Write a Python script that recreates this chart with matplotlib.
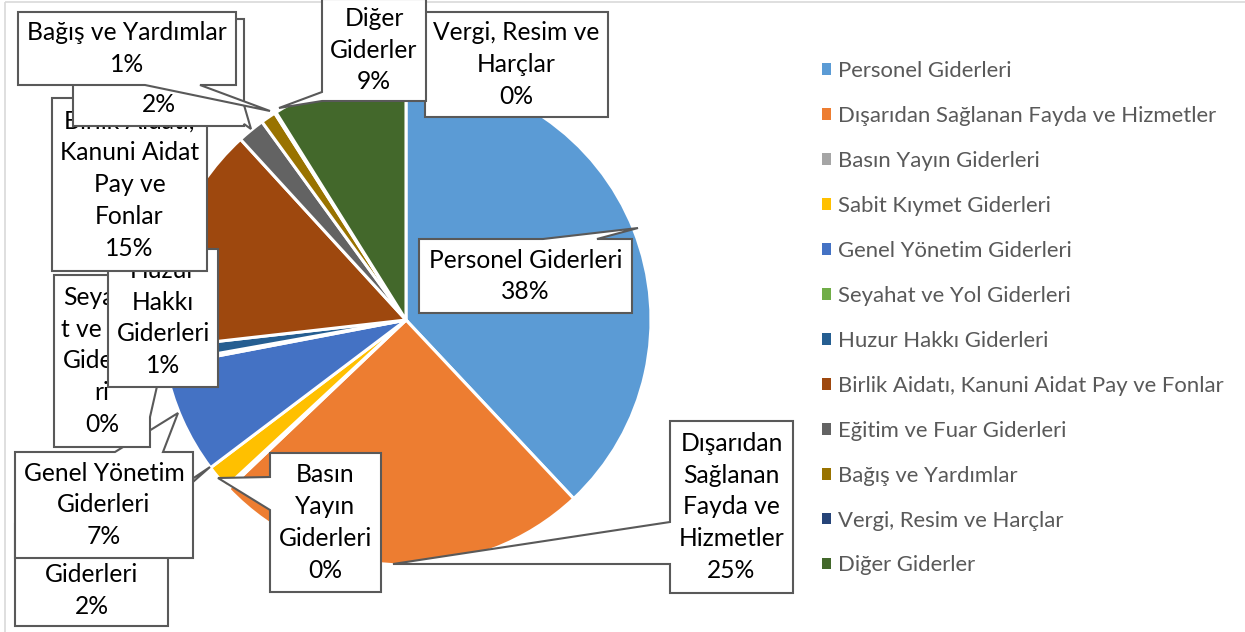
import matplotlib
matplotlib.use("Agg")
import matplotlib.pyplot as plt
from matplotlib.patches import Polygon, Patch, Rectangle

# ---------------- data ----------------
categories = [
    "Personel Giderleri",
    "Dışarıdan Sağlanan Fayda ve Hizmetler",
    "Basın Yayın Giderleri",
    "Sabit Kıymet Giderleri",
    "Genel Yönetim Giderleri",
    "Seyahat ve Yol Giderleri",
    "Huzur Hakkı Giderleri",
    "Birlik Aidatı, Kanuni Aidat Pay ve Fonlar",
    "Eğitim ve Fuar Giderleri",
    "Bağış ve Yardımlar",
    "Vergi, Resim ve Harçlar",
    "Diğer Giderler",
]
shares = [38.0, 24.9, 0.2, 1.6, 7.3, 0.2, 1.0, 15.0, 1.8, 1.0, 0.1, 8.9]
# label text as wrapped in the data-label boxes
label_names = [
    "Personel Giderleri",
    "Dışarıdan\nSağlanan\nFayda ve\nHizmetler",
    "Basın\nYayın\nGiderleri",
    "Sabit Kıymet\nGiderleri",
    "Genel Yönetim\nGiderleri",
    "Seyaha\nt ve Yol\nGiderle\nri",
    "Huzur\nHakkı\nGiderleri",
    "Birlik Aidatı,\nKanuni Aidat\nPay ve\nFonlar",
    "Eğitim ve Fuar\nGiderleri",
    "Bağış ve Yardımlar",
    "Vergi, Resim ve\nHarçlar",
    "Diğer\nGiderler",
]
colors = ["#5B9BD5", "#ED7D31", "#A5A5A5", "#FFC000", "#4472C4", "#70AD47",
          "#255E91", "#9E480E", "#636363", "#997300", "#264478", "#43682B"]

# ---------------- layout (pixel coordinates, y down) ----------------
W, H = 1245, 632
CENTER = (406, 320)
RADIUS = 245
# callout boxes: (x0, y0, x1, y1), wedge: (side, a, b, tip)
boxes = [
    ((419, 239, 632, 313), ("top", 543, 597, (638, 228))),
    ((670, 421, 793, 593), ("left", 522, 564, (393, 564))),
    ((270, 453, 381, 592), ("left", 477, 510, (218, 478))),
    ((15, 524, 168, 626), ("top", 125, 145, (210, 467))),
    ((15, 452, 193, 558), ("top", 115, 163, (178, 413))),
    ((54, 275, 150, 447), ("right", 370, 417, (163, 360))),
    ((108, 249, 218, 387), None),
    ((52, 98, 207, 271), None),
    ((73, 19, 244, 126), ("right", 105, 124, (251, 129))),
    ((18, 12, 236, 85), ("bottom", 145, 200, (270, 111))),
    ((425, 12, 608, 117), None),
    ((322, -1, 426, 101), ("left", 92, 101, (279, 108))),
]

FONT = ["Lato", "DejaVu Sans"]
LABEL_SIZE = 17.7
LEGEND_SIZE = 15.9

fig = plt.figure(figsize=(W / 100, H / 100), dpi=100)
ax = fig.add_axes([0, 0, 1, 1])

wedges, _ = ax.pie(shares, colors=colors, startangle=-90, counterclock=True,
                   center=CENTER, radius=RADIUS,
                   wedgeprops=dict(edgecolor="white", linewidth=2.2))
ax.set_xlim(0, W)
ax.set_ylim(H, 0)
ax.set_aspect("auto")
ax.axis("off")

# chart border (light gray)
ax.add_patch(Rectangle((5, 2), W + 20, H + 20, facecolor="none",
                       edgecolor="#D9D9D9", lw=1.2, zorder=0))


def callout_poly(box, wedge):
    x0, y0, x1, y1 = box
    if wedge is None:
        return [(x0, y0), (x1, y0), (x1, y1), (x0, y1)]
    side, a, b, (tx, ty) = wedge
    if side == "top":
        return [(x0, y0), (a, y0), (tx, ty), (b, y0), (x1, y0), (x1, y1), (x0, y1)]
    if side == "right":
        return [(x0, y0), (x1, y0), (x1, a), (tx, ty), (x1, b), (x1, y1), (x0, y1)]
    if side == "bottom":
        return [(x0, y0), (x1, y0), (x1, y1), (b, y1), (tx, ty), (a, y1), (x0, y1)]
    return [(x0, y0), (x1, y0), (x1, y1), (x0, y1), (x0, b), (tx, ty), (x0, a)]


total = sum(shares)
for i, (name, val) in enumerate(zip(label_names, shares)):
    box, wedge = boxes[i]
    z = 3 + 2 * i
    ax.add_patch(Polygon(callout_poly(box, wedge), closed=True, facecolor="white",
                         edgecolor="#595959", lw=1.5, joinstyle="miter", zorder=z))
    pct = f"{round(val / total * 100):.0f}%"
    cx = (box[0] + box[2]) / 2
    cy = (box[1] + box[3]) / 2
    ax.text(cx, cy, f"{name}\n{pct}", ha="center", va="center", family=FONT,
            fontsize=LABEL_SIZE, linespacing=1.47, color="black", zorder=z + 1)

handles = [Patch(facecolor=c, edgecolor="none") for c in colors]
ax.legend(handles, categories, loc="upper left", bbox_to_anchor=(822, 61),
          bbox_transform=ax.transData, frameon=False,
          prop={"family": FONT, "size": LEGEND_SIZE}, labelcolor="#595959",
          handlelength=0.43, handleheight=0.43, handletextpad=0.3,
          labelspacing=1.13, borderpad=0, borderaxespad=0)

fig.savefig("out.png", dpi=100)
